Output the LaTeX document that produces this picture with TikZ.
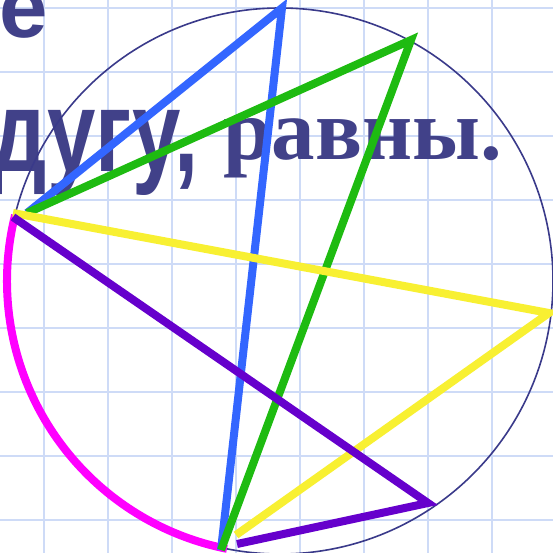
\documentclass[tikz,border=0pt]{standalone}
\usepackage{fontspec}
\newfontfamily\sansfnt{Liberation Sans}
\newfontfamily\seriffnt{Liberation Serif}
\definecolor{gridc}{RGB}{206,219,247}
\definecolor{txtc}{RGB}{65,65,137}
\definecolor{circc}{RGB}{58,58,138}
\definecolor{blueL}{RGB}{51,102,255}
\definecolor{greenL}{RGB}{30,187,17}
\definecolor{yellowL}{RGB}{248,240,50}
\definecolor{purpleL}{RGB}{102,0,204}
\definecolor{magL}{RGB}{255,0,255}
\tikzset{
  gridline/.style={draw=gridc, line width=2.8bp},
  circline/.style={draw=circc, line width=1.6bp},
  chord/.style={line width=8bp, line join=miter, miter limit=20},
  sanstxt/.style={anchor=base west, inner sep=0pt, text=txtc, font=\sansfnt\bfseries\fontsize{87bp}{90bp}\selectfont},
  seriftxt/.style={anchor=base west, inner sep=0pt, text=txtc, font=\seriffnt\bfseries\fontsize{87bp}{90bp}\selectfont}
}
\begin{document}
\begin{tikzpicture}[x=1bp,y=-1bp]
\useasboundingbox (0,0) rectangle (553,553);
\clip (0,0) rectangle (553,553);
\fill[white] (0,0) rectangle (553,553);
% grid
\foreach \gx in {44,108,172,236,300,364,428,492}
  \draw[gridline] (\gx,0) -- (\gx,553);
\foreach \gy in {8,72,136,200,264,328,392,456,520}
  \draw[gridline] (0,\gy) -- (553,\gy);
% text
\node[sanstxt] (t1) at (-1,38) {е};
\node[sanstxt] (t2) at (-9,172) {\scalebox{1}[1.33]{дугу,}};
\node[seriftxt] (t3) at (223,160) {равны.};
% circle
\coordinate (O) at (280,281);
\draw[circline] (O) circle [radius=273];
% vertices
\coordinate (Lb) at (27,213);
\coordinate (T) at (282,8);
\coordinate (B) at (221,550);
\coordinate (G) at (411,40);
\coordinate (Ly) at (13,213);
\coordinate (R) at (549,313);
\coordinate (Yb) at (236,535);
\coordinate (Lp) at (13,217);
\coordinate (Pm) at (428,503);
\coordinate (Pb) at (237,544);
\coordinate (Lm) at (15.1,215);
% magenta arc
\draw[chord, draw=magL] (Lm) arc[start angle=194, end angle=101.2, radius=273];
% chords
\draw[chord, draw=blueL] (Lb) -- (T) -- (B);
\draw[chord, draw=greenL] (Lb) -- (G) -- (B);
\draw[chord, draw=yellowL] (Ly) -- (R) -- (Yb);
\draw[chord, draw=purpleL] (Lp) -- (Pm) -- (Pb);
\end{tikzpicture}
\end{document}
